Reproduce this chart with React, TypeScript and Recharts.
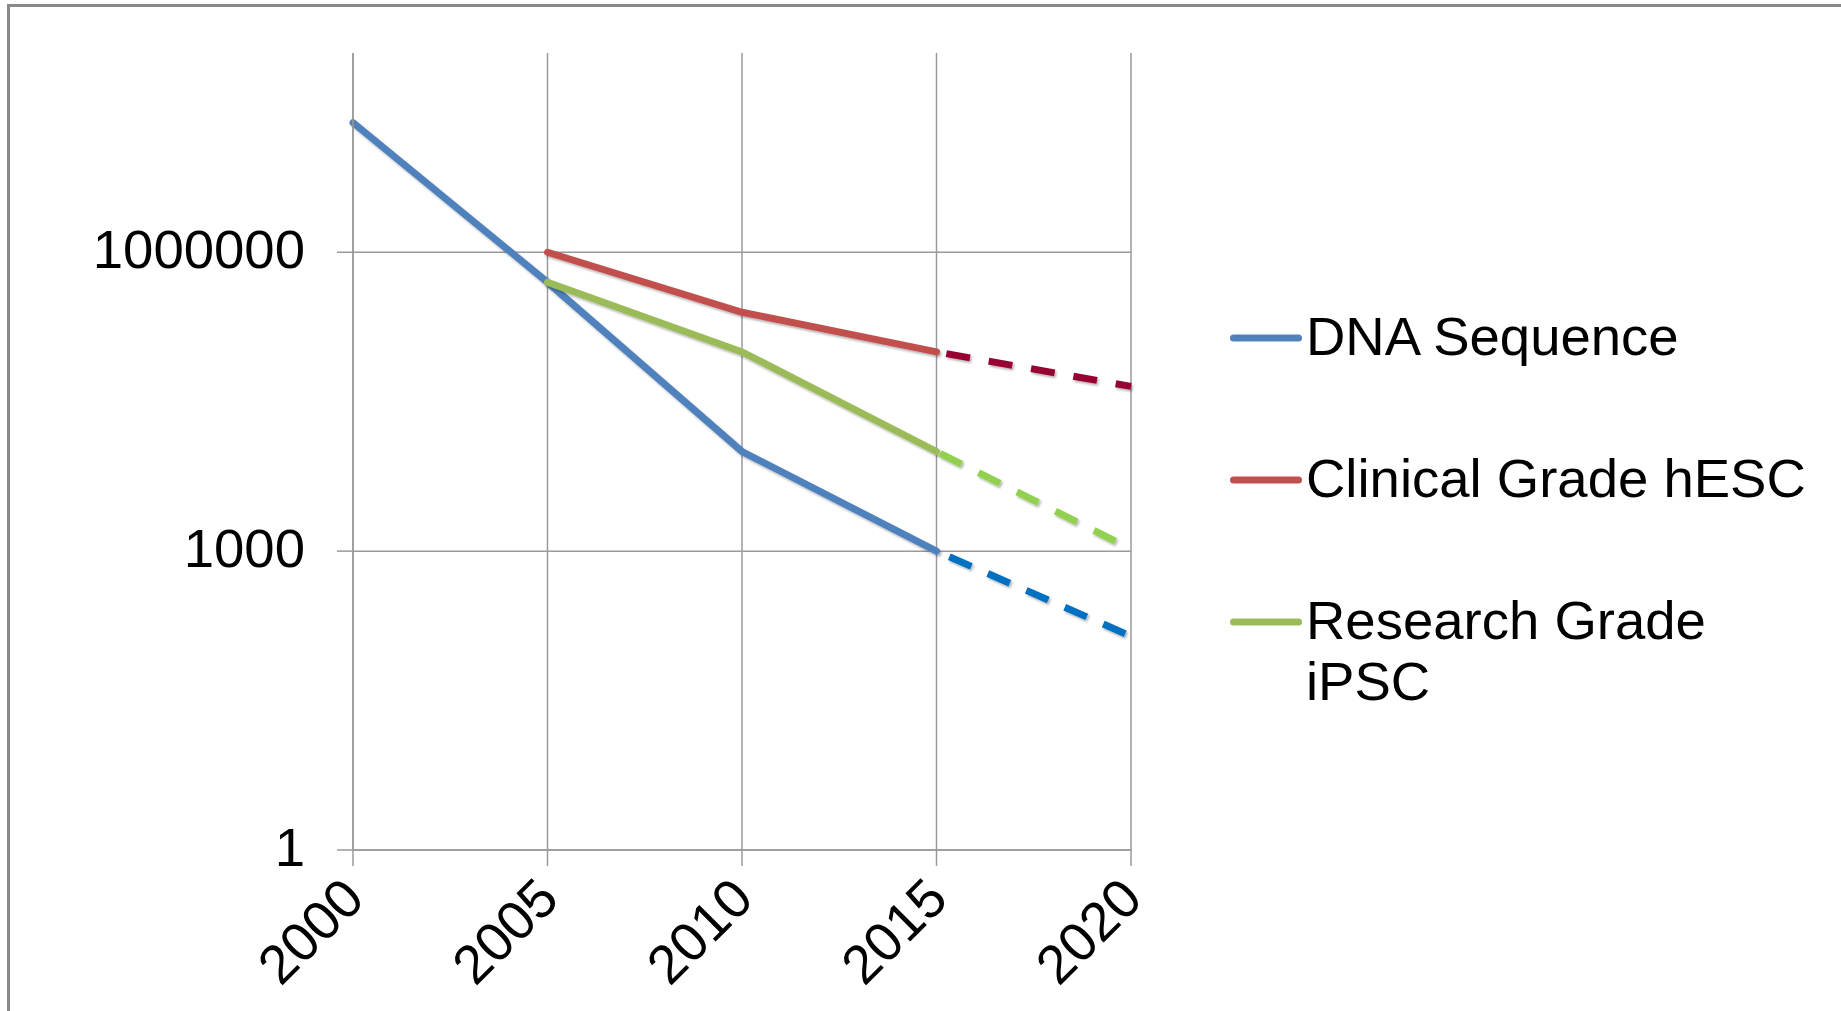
import React from 'react';
import { LineChart, Line, XAxis, YAxis, CartesianGrid } from 'recharts';

const years = [2000, 2005, 2010, 2015, 2020];
const dnaSequence = [20000000, 500000, 10000, 1000, null];
const dnaProjection = [null, null, null, 1000, 140];
const hescClinical = [null, 1000000, 250000, 100000, null];
const hescProjection = [null, null, null, 100000, 45000];
const ipscResearch = [null, 500000, 100000, 10000, null];
const ipscProjection = [null, null, null, 10000, 1050];
const yTicks = [1, 1000, 1000000];
const seriesNames = ['DNA Sequence', 'Clinical Grade hESC', 'Research Grade iPSC'];
const seriesColors = ['#4F81BD', '#C0504D', '#9BBB59'];
const projectionColors = ['#0070C0', '#990033', '#92D050'];

const data = years.map((year, i) => ({
  year,
  dna: dnaSequence[i],
  dnaProj: dnaProjection[i],
  hesc: hescClinical[i],
  hescProj: hescProjection[i],
  ipsc: ipscResearch[i],
  ipscProj: ipscProjection[i],
}));

const FONT = '"Liberation Sans", Arial, Helvetica, sans-serif';
const FS = 54.5;

const XTick = (props: any) => {
  const { x, y, payload } = props;
  const ax = x - 14;
  const ay = y - 2;
  return (
    <text
      x={ax}
      y={ay}
      dy={39}
      transform={`rotate(-45, ${ax}, ${ay})`}
      textAnchor="end"
      fontFamily={FONT}
      fontSize={FS}
      fill="#000"
    >
      {payload.value}
    </text>
  );
};

const YTick = (props: any) => {
  const { x, y, payload } = props;
  return (
    <text x={x} y={y} dy={16} textAnchor="end" fontFamily={FONT} fontSize={FS} fill="#000">
      {String(payload.value)}
    </text>
  );
};

const legendTops = [306, 448, 590];
const LW = 7;

export default function App() {
  return (
    <div
      style={{
        position: 'absolute',
        left: 0,
        top: 0,
        width: 1841,
        height: 1011,
        background: '#fff',
        overflow: 'hidden',
      }}
    >
      <style>{`.rc-wrap .recharts-line-curve { filter: url(#lineShadow); }`}</style>
      <svg width={0} height={0} style={{ position: 'absolute' }}>
        <defs>
          <filter id="lineShadow" x="-10%" y="-10%" width="130%" height="130%">
            <feDropShadow dx="1.5" dy="2" stdDeviation="1.3" floodColor="#000" floodOpacity="0.3" />
          </filter>
        </defs>
      </svg>
      <div style={{ position: 'absolute', left: 7, top: 4, right: 0, height: 3, background: '#898989' }} />
      <div style={{ position: 'absolute', left: 7, top: 4, bottom: 0, width: 3, background: '#898989' }} />
      <div className="rc-wrap" style={{ position: 'absolute', left: 0, top: 0 }}>
        <LineChart
          width={1841}
          height={1011}
          data={data}
          margin={{ top: 53, right: 710, bottom: 0, left: 0 }}
        >
          <CartesianGrid stroke="#9a9a9a" strokeWidth={1.5} horizontalValues={yTicks} verticalValues={years} />
          <XAxis
            dataKey="year"
            type="number"
            domain={[2000, 2020]}
            ticks={years}
            interval={0}
            height={161}
            tickSize={16}
            tickMargin={10}
            tickLine={{ stroke: '#9a9a9a', strokeWidth: 1.5 }}
            axisLine={{ stroke: '#9a9a9a', strokeWidth: 1.5 }}
            tick={<XTick />}
          />
          <YAxis
            type="number"
            scale="log"
            domain={[1, 100000000]}
            allowDataOverflow
            ticks={yTicks}
            interval={0}
            width={353}
            tickSize={16}
            tickMargin={32}
            tickLine={{ stroke: '#9a9a9a', strokeWidth: 1.5 }}
            axisLine={{ stroke: '#9a9a9a', strokeWidth: 1.5 }}
            tick={<YTick />}
          />
          <Line dataKey="dna" name={seriesNames[0]} stroke={seriesColors[0]} strokeWidth={LW} dot={false} isAnimationActive={false} strokeLinecap="round" />
          <Line dataKey="hesc" name={seriesNames[1]} stroke={seriesColors[1]} strokeWidth={LW} dot={false} isAnimationActive={false} strokeLinecap="round" />
          <Line dataKey="ipsc" name={seriesNames[2]} stroke={seriesColors[2]} strokeWidth={LW} dot={false} isAnimationActive={false} strokeLinecap="round" />
          <Line dataKey="dnaProj" stroke={projectionColors[0]} strokeWidth={LW} dot={false} isAnimationActive={false} strokeDasharray="24 18" strokeDashoffset={28} strokeLinecap="butt" legendType="none" />
          <Line dataKey="hescProj" stroke={projectionColors[1]} strokeWidth={LW} dot={false} isAnimationActive={false} strokeDasharray="24 19" strokeDashoffset={33} strokeLinecap="butt" legendType="none" />
          <Line dataKey="ipscProj" stroke={projectionColors[2]} strokeWidth={LW} dot={false} isAnimationActive={false} strokeDasharray="24 19" strokeDashoffset={39} strokeLinecap="butt" legendType="none" />
        </LineChart>
      </div>
      {seriesNames.map((name, i) => (
        <div
          key={name}
          style={{ position: 'absolute', left: 1230, top: legendTops[i], display: 'flex', alignItems: 'flex-start' }}
        >
          <svg width={76} height={61} style={{ display: 'block', flex: '0 0 auto' }}>
            <line x1={3.5} y1={32} x2={68.5} y2={32} stroke={seriesColors[i]} strokeWidth={LW} strokeLinecap="round" />
          </svg>
          <div
            style={{
              width: 520,
              fontFamily: FONT,
              fontSize: FS,
              lineHeight: '61px',
              color: '#000',
            }}
          >
            {name}
          </div>
        </div>
      ))}
    </div>
  );
}
